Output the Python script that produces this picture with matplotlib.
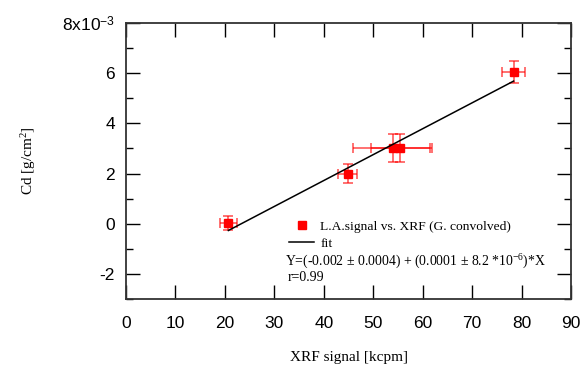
import numpy as np
import matplotlib
matplotlib.use("Agg")
import matplotlib.pyplot as plt
from matplotlib.ticker import MultipleLocator, FuncFormatter
from matplotlib.lines import Line2D

plt.rcParams["mathtext.fontset"] = "custom"
plt.rcParams["mathtext.rm"] = "Liberation Serif"
plt.rcParams["mathtext.it"] = "Liberation Serif:italic"

# XRF signal (kcpm) vs. laser-ablation Cd areal density (g/cm^2)
xrf = [20.7, 44.8, 53.9, 55.5, 78.4]
xrf_err = [1.7, 1.9, 7.9, 5.9, 2.4]
cd = [0.00003, 0.0020, 0.00303, 0.00302, 0.00603]
cd_err = [0.00027, 0.00037, 0.00055, 0.00057, 0.00044]

x_ticks = [0, 10, 20, 30, 40, 50, 60, 70, 80, 90]
y_ticks = [-0.002, 0.0, 0.002, 0.004, 0.006, 0.008]

slope, intercept = np.polyfit(xrf, cd, 1)
fit_x = np.array([min(xrf), max(xrf)])
fit_y = intercept + slope * fit_x

fig = plt.figure(figsize=(5.87, 3.72), dpi=100)
ax = fig.add_axes([0.2147, 0.1962, 0.758, 0.742])

ax.errorbar(xrf, cd, xerr=xrf_err, yerr=cd_err, fmt="none",
            ecolor=(1, 0, 0, 0.6), elinewidth=1.3, capsize=3.5, capthick=1.3, zorder=2)
ax.plot(xrf, cd, "s", color="#ff0000", markersize=5.6, zorder=3)
ax.plot(fit_x, fit_y, color="black", lw=1.1, zorder=4)

ax.set_xlim(0, 90)
ax.set_ylim(-0.003, 0.008)
ax.set_xticks(x_ticks)
ax.set_yticks(y_ticks)
ax.yaxis.set_minor_locator(MultipleLocator(0.001))

def ylab(v, pos):
    k = round(v * 1000)
    if k == 8:
        return "8x10$^{\\mathregular{-3}}$"
    return str(k)

ax.yaxis.set_major_formatter(FuncFormatter(ylab))

ax.tick_params(axis="both", which="major", direction="in", length=10, width=1,
               labelsize=12.5, top=True, right=True)
ax.tick_params(axis="x", which="major", pad=12)
ax.tick_params(axis="y", which="major", pad=8)
ax.tick_params(axis="y", which="minor", direction="in", length=5, width=1, right=True)
ax.tick_params(axis="x", which="minor", bottom=False, top=False)
for lab in ax.get_xticklabels() + ax.get_yticklabels():
    lab.set_fontfamily("Liberation Sans")
for sp in ax.spines.values():
    sp.set_linewidth(1.3)
    sp.set_color("#333333")

ax.set_xlabel("XRF signal [kcpm]", fontfamily="Liberation Serif", fontsize=11)
ax.set_ylabel("Cd [g/cm$^{\\mathregular{2}}$]", fontfamily="Liberation Serif", fontsize=11)
ax.xaxis.set_label_coords(0.5, -0.188)
ax.yaxis.set_label_coords(-0.198, 0.5)

handles = [Line2D([], [], marker="s", color="#ff0000", ls="none", markersize=6),
           Line2D([], [], color="black", lw=1.1)]
ax.legend(handles, ["L.A.signal vs. XRF (G. convolved)", "fit"], loc="upper left",
          bbox_to_anchor=(0.352, 0.31), frameon=False, handlelength=1.8,
          handletextpad=0.5, labelspacing=0.35, borderpad=0,
          prop={"family": "Liberation Serif", "size": 9.7})

ax.text(0.358, 0.135, "Y=(-0.002 ± 0.0004) + (0.0001 ± 8.2 *10$^{\\mathregular{-6}}$)*X",
        transform=ax.transAxes, fontfamily="Liberation Serif", fontsize=9.9, va="center")
ax.text(0.363, 0.078, "r=0.99", transform=ax.transAxes,
        fontfamily="Liberation Serif", fontsize=9.9, va="center")

fig.savefig("out.png", dpi=100)
